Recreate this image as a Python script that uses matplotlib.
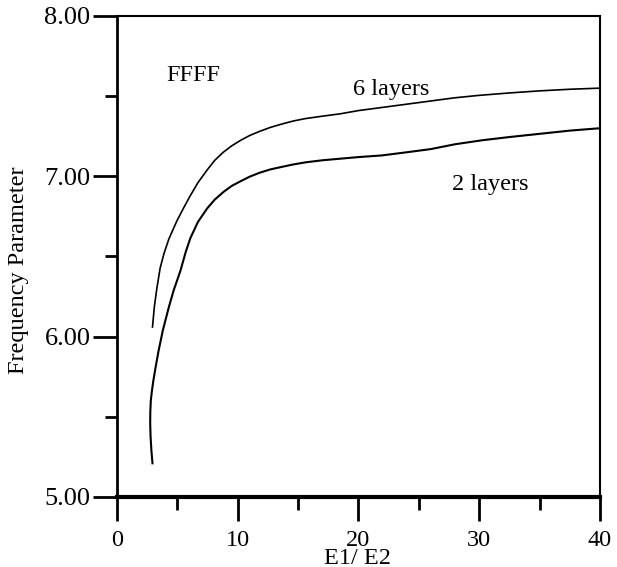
import matplotlib.pyplot as plt
from matplotlib.ticker import MultipleLocator, FormatStrFormatter

# values
x6 = [2.94, 3.1, 3.3, 3.58, 3.9, 4.3, 4.98, 5.5, 6.0, 6.7, 7.47, 8.1, 8.8, 9.5, 10.25,
      11.0, 11.8, 12.7, 13.6, 14.6, 15.6, 17.0, 18.5, 20.0, 22.0, 24.0, 26.0, 28.0,
      30.0, 32.5, 35.0, 37.5, 40.0]
y6 = [6.06, 6.19, 6.30, 6.43, 6.52, 6.61, 6.725, 6.80, 6.87, 6.96, 7.04, 7.10, 7.15,
      7.19, 7.225, 7.255, 7.28, 7.305, 7.325, 7.345, 7.36, 7.375, 7.39, 7.41, 7.43,
      7.45, 7.47, 7.49, 7.505, 7.52, 7.533, 7.543, 7.55]

x2 = [2.94, 2.85, 2.78, 2.75, 2.76, 2.8, 2.89, 3.0, 3.2, 3.44, 3.8, 4.28, 4.7, 5.25,
      5.7, 6.08, 6.7, 7.47, 8.1, 8.86, 9.5, 10.25, 11.0, 11.8, 12.7, 13.6, 14.6, 15.6,
      17.0, 18.5, 20.0, 21.9, 24.0, 26.0, 28.0, 30.25, 32.5, 35.0, 37.5, 40.0]
y2 = [5.21, 5.29, 5.38, 5.46, 5.53, 5.60, 5.66, 5.72, 5.81, 5.91, 6.04, 6.18, 6.29,
      6.41, 6.53, 6.615, 6.715, 6.80, 6.855, 6.905, 6.94, 6.97, 6.998, 7.022, 7.043,
      7.058, 7.074, 7.087, 7.10, 7.11, 7.12, 7.13, 7.15, 7.17, 7.20, 7.225, 7.245,
      7.265, 7.285, 7.30]

plt.rcParams['font.family'] = ['Liberation Serif', 'DejaVu Serif']
fs = 17.5

fig = plt.figure(figsize=(6.17, 5.67), dpi=100)
ax = fig.add_axes([0.1896, 0.1235, 0.7828, 0.8483])

ax.plot(x6, y6, color='black', lw=1.2)
ax.plot(x2, y2, color='black', lw=1.5)

ax.set_xlim(0, 40)
ax.set_ylim(5, 8)
ax.xaxis.set_major_locator(MultipleLocator(10))
ax.xaxis.set_minor_locator(MultipleLocator(5))
ax.yaxis.set_major_locator(MultipleLocator(1))
ax.yaxis.set_minor_locator(MultipleLocator(0.5))
ax.yaxis.set_major_formatter(FormatStrFormatter('%.2f'))

ax.tick_params(which='major', direction='out', length=17, width=2, color='black')
ax.tick_params(which='minor', direction='out', length=9, width=2, color='black')
ax.tick_params(axis='x', which='major', pad=7, labelsize=fs)
ax.tick_params(axis='y', which='major', pad=2, labelsize=19)
ax.tick_params(top=False, right=False, which='both')

ax.spines['left'].set_linewidth(2)
ax.spines['bottom'].set_linewidth(3)
ax.spines['top'].set_linewidth(1.5)
ax.spines['right'].set_linewidth(1.5)

ax.text(6.3, 7.63, 'FFFF', fontsize=fs, ha='center', va='center')
ax.text(22.75, 7.54, '6 layers', fontsize=fs, ha='center', va='center')
ax.text(30.9, 6.95, '2 layers', fontsize=fs, ha='center', va='center')

fig.text(358 / 617, 1 - 558 / 567, 'E1/ E2', fontsize=fs, ha='center', va='center')
fig.text(19 / 617, 1 - 270 / 567, 'Frequency Parameter', fontsize=fs, ha='center',
         va='center', rotation=90)

plt.savefig('out.png', dpi=100)
